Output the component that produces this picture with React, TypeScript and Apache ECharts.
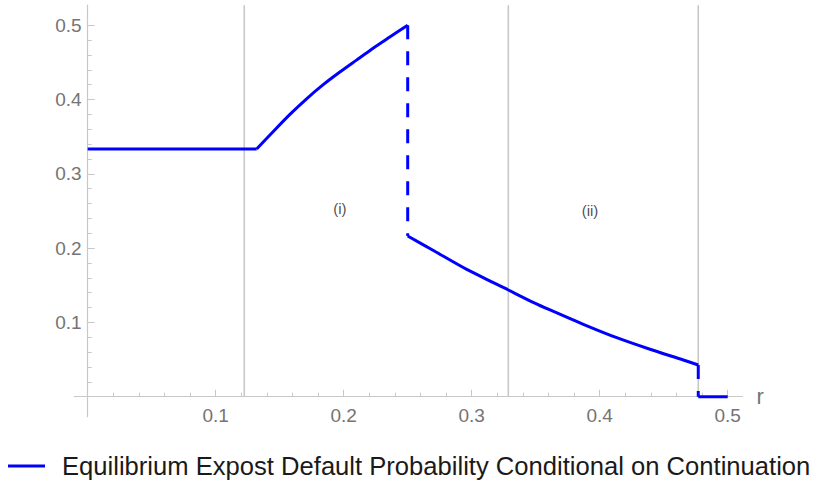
import React, { useEffect, useRef } from "react";
import * as echarts from "echarts";

// ---- data ----
const SERIES_NAME = "Equilibrium Expost Default Probability Conditional on Continuation";
const xTickLabels = ["0.1", "0.2", "0.3", "0.4", "0.5"];
const yTickLabels = ["0.1", "0.2", "0.3", "0.4", "0.5"];
const regionBoundaries = [0.1223, 0.3286, 0.477];
const flatSegment = [
  [0, 0.3333],
  [0.132, 0.3333],
];
const risingCurve = [
  [0.132, 0.3333],
  [0.145, 0.357],
  [0.158, 0.38],
  [0.171, 0.401],
  [0.184, 0.42],
  [0.197, 0.437],
  [0.21, 0.453],
  [0.223, 0.469],
  [0.236, 0.484],
  [0.25, 0.5],
];
const jumpHigh = [
  [0.25, 0.5],
  [0.25, 0.2163],
];
const fallingCurve = [
  [0.25, 0.2163],
  [0.2708, 0.1961],
  [0.2961, 0.1714],
  [0.3286, 0.1436],
  [0.348, 0.127],
  [0.3612, 0.1167],
  [0.3872, 0.0974],
  [0.4133, 0.0794],
  [0.4393, 0.0638],
  [0.4653, 0.0494],
  [0.477, 0.0427],
];
const jumpLow = [
  [0.477, 0.0427],
  [0.477, 0],
];
const zeroSegment = [
  [0.477, 0],
  [0.5, 0],
];
const annotations = [
  { name: "(i)", value: [0.197, 0.253] },
  { name: "(ii)", value: [0.3924, 0.25] },
];

// ---- layout ----
const W = 815;
const H = 482;
const X0 = 87.7; // pixel of x = 0
const PX_X = 1280; // pixels per unit x
const Y0 = 396.7; // pixel of y = 0
const PX_Y = 743; // pixels per unit y
const X_MIN = -0.0105;
const X_MAX = 0.5115;
const Y_MIN = -0.027;
const Y_MAX = 0.527;

const BLUE = "#0000ff";
const GREY_LINE = "#c8c8c8";
const LABEL_GREY = "#747474";
const FONT = "'Liberation Sans', Arial, sans-serif";

export default function App() {
  const ref = useRef<HTMLDivElement>(null);

  useEffect(() => {
    document.body.style.margin = "0";
    const chart = echarts.init(ref.current!, null, { renderer: "svg" });

    const outer = {
      left: X0 + X_MIN * PX_X,
      right: W - (X0 + X_MAX * PX_X),
      top: Y0 - Y_MAX * PX_Y,
      bottom: H - (Y0 - Y_MIN * PX_Y),
    };
    const inner = {
      left: X0,
      right: W - (X0 + 0.5 * PX_X),
      top: Y0 - 0.5 * PX_Y,
      bottom: H - Y0,
    };

    const blueSeg = (data: number[][], dashed: boolean, smooth: boolean) => ({
      type: "line",
      name: SERIES_NAME,
      xAxisIndex: 0,
      yAxisIndex: 0,
      data,
      showSymbol: false,
      symbol: "none",
      silent: true,
      smooth: smooth ? 0.25 : false,
      z: 5,
      itemStyle: { color: BLUE },
      lineStyle: {
        color: BLUE,
        width: 3,
        type: dashed ? [14, 12] : "solid",
      },
    });

    const option: any = {
      animation: false,
      grid: [
        { ...outer, containLabel: false },
        { ...inner, containLabel: false },
      ],
      xAxis: [
        {
          type: "value",
          gridIndex: 0,
          min: X_MIN,
          max: X_MAX,
          axisLine: { show: true, onZero: true, lineStyle: { color: GREY_LINE, width: 1.2 } },
          axisTick: { show: false },
          axisLabel: { show: false },
          splitLine: { show: false },
          name: "r",
          nameLocation: "end",
          nameGap: 14,
          nameTextStyle: { fontSize: 22, color: LABEL_GREY, fontFamily: FONT, verticalAlign: "middle" },
        },
        {
          type: "value",
          gridIndex: 1,
          min: 0,
          max: 0.5,
          interval: 0.1,
          axisLine: { show: false },
          axisTick: { show: true, inside: true, length: 7, lineStyle: { color: GREY_LINE } },
          minorTick: { show: true, splitNumber: 5, length: 4, lineStyle: { color: GREY_LINE } },
          axisLabel: {
            show: true,
            showMinLabel: false,
            margin: 9,
            fontSize: 19,
            color: LABEL_GREY,
            fontFamily: FONT,
            formatter: (v: number) => {
              const i = Math.round(v * 10) - 1;
              return i >= 0 && i < xTickLabels.length ? xTickLabels[i] : "";
            },
          },
          splitLine: { show: false },
        },
      ],
      yAxis: [
        {
          type: "value",
          gridIndex: 0,
          min: Y_MIN,
          max: Y_MAX,
          axisLine: { show: true, onZero: true, lineStyle: { color: GREY_LINE, width: 1.2 } },
          axisTick: { show: false },
          axisLabel: { show: false },
          splitLine: { show: false },
        },
        {
          type: "value",
          gridIndex: 1,
          min: 0,
          max: 0.5,
          interval: 0.1,
          axisLine: { show: false },
          axisTick: { show: true, inside: true, length: 7, lineStyle: { color: GREY_LINE } },
          minorTick: { show: true, splitNumber: 5, length: 4, lineStyle: { color: GREY_LINE } },
          axisLabel: {
            show: true,
            showMinLabel: false,
            margin: 6,
            fontSize: 19,
            color: LABEL_GREY,
            fontFamily: FONT,
            formatter: (v: number) => {
              const i = Math.round(v * 10) - 1;
              return i >= 0 && i < yTickLabels.length ? yTickLabels[i] : "";
            },
          },
          splitLine: { show: false },
        },
      ],
      legend: {
        data: [SERIES_NAME],
        left: 8,
        top: 453,
        padding: 0,
        icon: "rect",
        itemWidth: 37,
        itemHeight: 3,
        selectedMode: false,
        textStyle: {
          fontSize: 25.6,
          color: "#1a1a1a",
          fontFamily: FONT,
          padding: [0, 0, 0, 12],
        },
      },
      series: [
        ...regionBoundaries.map((x, i) => ({
          type: "line",
          name: "boundary" + i,
          xAxisIndex: 0,
          yAxisIndex: 0,
          data: [
            [x, 0],
            [x, Y_MAX],
          ],
          showSymbol: false,
          symbol: "none",
          silent: true,
          z: 2,
          lineStyle: { color: GREY_LINE, width: 1.6 },
        })),
        blueSeg(flatSegment, false, false),
        blueSeg(risingCurve, false, true),
        blueSeg(jumpHigh, true, false),
        blueSeg(fallingCurve, false, true),
        blueSeg(jumpLow, true, false),
        blueSeg(zeroSegment, false, false),
        {
          type: "scatter",
          name: "annotations",
          xAxisIndex: 0,
          yAxisIndex: 0,
          symbolSize: 0,
          silent: true,
          data: annotations,
          label: {
            show: true,
            position: "inside",
            formatter: (p: any) => p.name,
            fontSize: 15,
            color: "#222222",
            fontFamily: FONT,
          },
        },
      ],
    };

    chart.setOption(option);
    return () => chart.dispose();
  }, []);

  return <div ref={ref} style={{ width: W, height: H }} />;
}
